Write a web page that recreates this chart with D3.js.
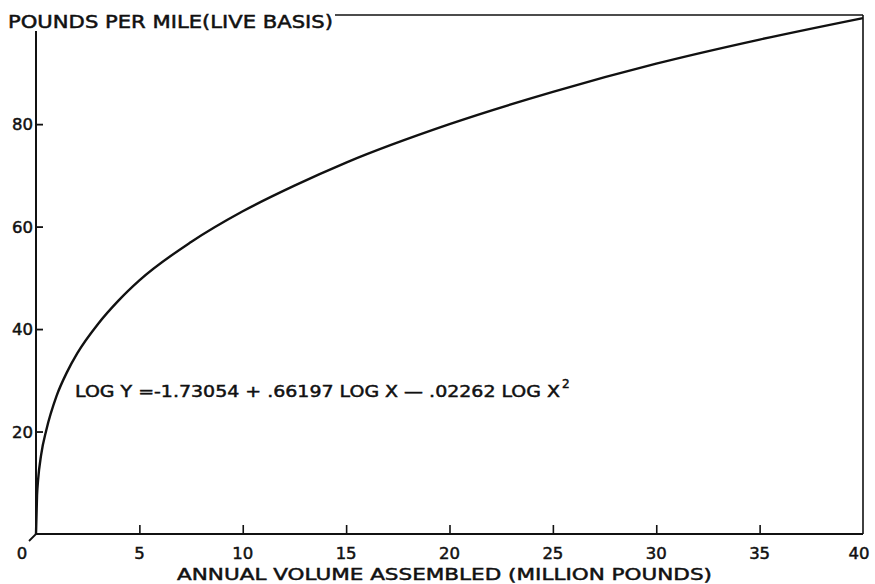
<!DOCTYPE html>
<html>
<head>
<meta charset="utf-8">
<script src="https://cdn.jsdelivr.net/npm/d3@7"></script>
<style>
  body { margin: 0; background: #fff; }
  text { font-family: "DejaVu Sans", sans-serif; fill: #111; }
</style>
</head>
<body>
<script>
// values
var volume = [0, 0.05, 0.1, 0.25, 0.5, 1, 1.5, 2, 3, 4, 5, 7.5, 10, 12.5, 15, 20, 25, 30, 35, 40];   // million pounds
var pounds = [0, 7.5, 10.5, 15.5, 20.3, 27, 31.6, 35.3, 41.0, 45.6, 49.5, 57.0, 63, 68, 72.5, 80, 86.3, 91.8, 96.5, 100.7];
var xTicks = [0, 5, 10, 15, 20, 25, 30, 35, 40];
var yTicks = [20, 40, 60, 80];
var yTitle = "POUNDS PER MILE(LIVE BASIS)";
var xTitle = "ANNUAL VOLUME ASSEMBLED (MILLION POUNDS)";
var equation = "LOG Y =-1.73054 + .66197 LOG X \u2014 .02262  LOG X";

var width = 875;
var height = 584;
var plot = {"left": 36, "right": 863, "top": 15, "bottom": 534};

var x = d3.scaleLinear().domain([0, 40]).range([plot.left, plot.right]);
var y = d3.scaleLinear().domain([0, 101.3]).range([plot.bottom, plot.top]);

var svg = d3.select("body").append("svg")
    .attr("width", width)
    .attr("height", height);

var points = volume.map(function(v, i){ return {"x": v, "y": pounds[i]}; });

function drawFrame(){
    // top rule running out of the y title, and right edge
    svg.append("line")
        .attr("x1", 335).attr("x2", plot.right)
        .attr("y1", plot.top).attr("y2", plot.top)
        .attr("stroke", "#111").attr("stroke-width", 1.6);
    svg.append("line")
        .attr("x1", plot.right).attr("x2", plot.right)
        .attr("y1", plot.top).attr("y2", plot.bottom)
        .attr("stroke", "#111").attr("stroke-width", 1.6);
    // little diagonal at the origin
    svg.append("line")
        .attr("x1", x(0)).attr("y1", y(0))
        .attr("x2", x(0) - 7).attr("y2", y(0) + 7)
        .attr("stroke", "#111").attr("stroke-width", 1.8);
}

function drawAxes(){
    var yAxis = d3.axisRight(y).tickValues(yTicks).tickSize(7).tickFormat("");
    var gy = svg.append("g")
        .attr("class", "yAxis")
        .attr("transform", "translate(" + plot.left + ",0)")
        .call(yAxis);
    gy.select(".domain").remove();
    gy.selectAll(".tick line").attr("stroke", "#111").attr("stroke-width", 1.8);
    svg.append("line")
        .attr("x1", plot.left).attr("x2", plot.left)
        .attr("y1", 31).attr("y2", plot.bottom)
        .attr("stroke", "#111").attr("stroke-width", 2);
    svg.selectAll(".ylab").data(yTicks).enter().append("text")
        .attr("class", "ylab")
        .attr("x", plot.left - 3)
        .attr("y", function(d){ return y(d) + 6; })
        .attr("text-anchor", "end")
        .attr("font-size", 16.5)
        .attr("stroke", "#111").attr("stroke-width", 0.5)
        .text(function(d){ return d; });

    var xAxis = d3.axisTop(x).tickValues(xTicks.slice(1, -1)).tickSize(9).tickFormat("");
    var gx = svg.append("g")
        .attr("class", "xAxis")
        .attr("transform", "translate(0," + plot.bottom + ")")
        .call(xAxis);
    gx.select(".domain").remove();
    gx.selectAll(".tick line").attr("stroke", "#111").attr("stroke-width", 1.6);
    svg.append("line")
        .attr("x1", plot.left).attr("x2", plot.right)
        .attr("y1", plot.bottom).attr("y2", plot.bottom)
        .attr("stroke", "#111").attr("stroke-width", 2);
    svg.selectAll(".xlab").data(xTicks).enter().append("text")
        .attr("class", "xlab")
        .attr("x", function(d){ return d == 0 ? x(d) - 14 : (d == 40 ? x(d) - 4 : x(d)); })
        .attr("y", plot.bottom + 25)
        .attr("text-anchor", "middle")
        .attr("font-size", 16.5)
        .attr("stroke", "#111").attr("stroke-width", 0.5)
        .text(function(d){ return d; });
}

function drawTitles(){
    svg.append("text")
        .attr("x", 8).attr("y", 28)
        .attr("font-size", 17.5)
        .attr("stroke", "#111").attr("stroke-width", 0.5)
        .attr("textLength", 325).attr("lengthAdjust", "spacingAndGlyphs")
        .text(yTitle);
    svg.append("text")
        .attr("x", 177).attr("y", 580)
        .attr("font-size", 16.5)
        .attr("stroke", "#111").attr("stroke-width", 0.5)
        .attr("textLength", 535).attr("lengthAdjust", "spacingAndGlyphs")
        .text(xTitle);
    var eq = svg.append("text")
        .attr("x", 75).attr("y", 397)
        .attr("font-size", 16.5)
        .attr("stroke", "#111").attr("stroke-width", 0.5);
    eq.append("tspan")
        .attr("textLength", 485).attr("lengthAdjust", "spacingAndGlyphs")
        .text(equation);
    eq.append("tspan")
        .attr("x", 562).attr("y", 388)
        .attr("font-size", 12)
        .text("2");
}

function drawCurve(){
    var line = d3.line()
        .x(function(d){ return x(d.x); })
        .y(function(d){ return y(d.y); })
        .curve(d3.curveMonotoneX);
    svg.append("path")
        .datum(points)
        .attr("d", line)
        .attr("fill", "none")
        .attr("stroke", "#111")
        .attr("stroke-width", 2.4);
}

drawFrame();
drawAxes();
drawCurve();
drawTitles();
</script>
</body>
</html>
